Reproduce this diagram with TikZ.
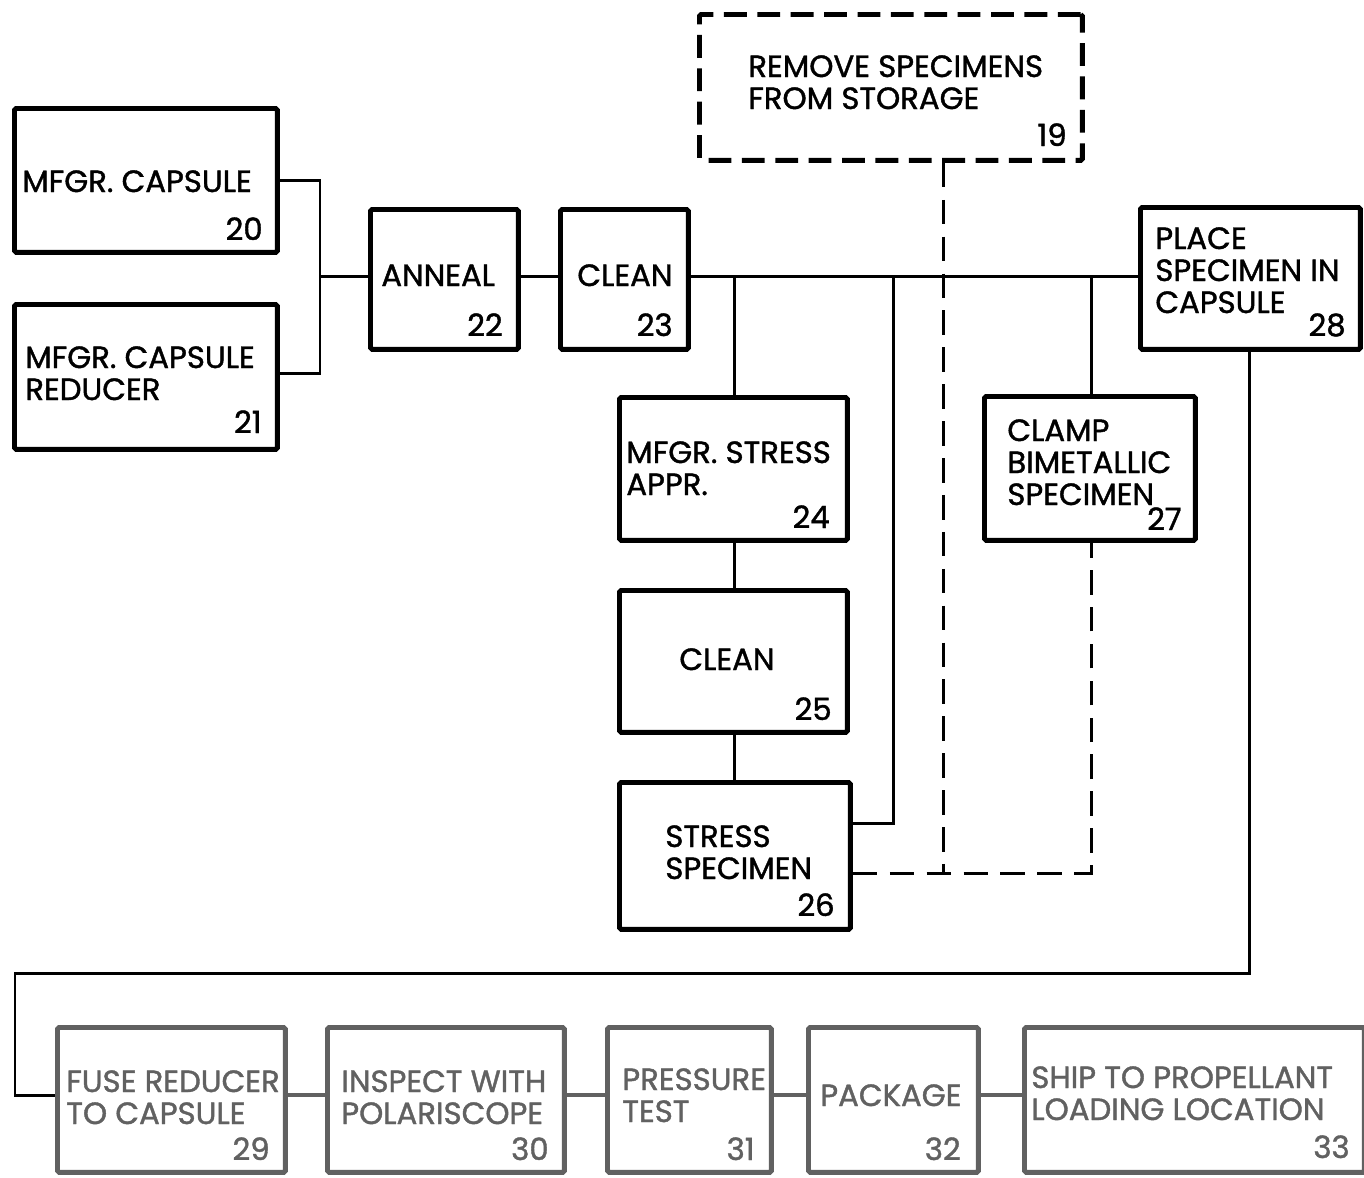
\documentclass[tikz,border=0pt]{standalone}
\usepackage{fontspec}
\setmainfont[FakeBold=1.3]{Poppins}
\begin{document}
\begin{tikzpicture}[x=0.02cm,y=-0.02cm,
  box/.style={draw, line width=2.8pt, rounded corners=1pt, inner sep=0pt, anchor=north west},
  dbox/.style={box, dash pattern=on 13pt off 6pt},
  gbox/.style={box, draw=black!62},
  lbl/.style={inner sep=0pt, anchor=base west, font=\fontsize{17.5}{20}\selectfont},
  num/.style={inner sep=0pt, anchor=base east, font=\fontsize{17.5}{20}\selectfont},
  glbl/.style={lbl, text=black!62},
  gnum/.style={num, text=black!62},
  wire/.style={line width=1.7pt},
  gwire/.style={line width=1.9pt, draw=black!62},
  dwire/.style={line width=1.7pt, dash pattern=on 14pt off 7pt}]
\useasboundingbox (0,0) rectangle (1364,1177);
% boxes
\node[dbox, minimum width=7.66cm, minimum height=2.92cm] (b19) at (697,12) {};
\node[box, minimum width=5.26cm, minimum height=2.88cm] (b20) at (12,106) {};
\node[box, minimum width=5.26cm, minimum height=2.90cm] (b21) at (12,302) {};
\node[box, minimum width=2.96cm, minimum height=2.80cm] (b22) at (368,207) {};
\node[box, minimum width=2.56cm, minimum height=2.80cm] (b23) at (558,207) {};
\node[box, minimum width=4.40cm, minimum height=2.84cm] (b28) at (1138,205) {};
\node[box, minimum width=4.56cm, minimum height=2.86cm] (b24) at (617,395) {};
\node[box, minimum width=4.56cm, minimum height=2.84cm] (b25) at (617,588) {};
\node[box, minimum width=4.62cm, minimum height=2.94cm] (b26) at (617,780) {};
\node[box, minimum width=4.22cm, minimum height=2.88cm] (b27) at (982,394) {};
\node[gbox, minimum width=4.56cm, minimum height=2.90cm] (b29) at (55,1025) {};
\node[gbox, minimum width=4.74cm, minimum height=2.90cm] (b30) at (325,1025) {};
\node[gbox, minimum width=3.28cm, minimum height=2.90cm] (b31) at (605,1025) {};
\node[gbox, minimum width=3.40cm, minimum height=2.90cm] (b32) at (806,1025) {};
\node[gbox, minimum width=6.80cm, minimum height=2.90cm] (b33) at (1022,1025) {};
% labels
\node[lbl] (t19a) at (748,77) {REMOVE SPECIMENS};
\node[lbl] (t19b) at (748,109) {FROM STORAGE};
\node[num] (n19) at (1067,146) {19};
\node[lbl] (t20) at (22,192) {MFGR. CAPSULE};
\node[num] (n20) at (263,240) {20};
\node[lbl] (t21a) at (25,368) {MFGR. CAPSULE};
\node[lbl] (t21b) at (25,400) {REDUCER};
\node[num] (n21) at (262,433) {21};
\node[lbl] (t22) at (381,286) {ANNEAL};
\node[num] (n22) at (503,336) {22};
\node[lbl] (t23) at (577,286) {CLEAN};
\node[num] (n23) at (673,336) {23};
\node[lbl] (t28a) at (1155,249) {PLACE};
\node[lbl] (t28b) at (1155,281) {SPECIMEN IN};
\node[lbl] (t28c) at (1155,313) {CAPSULE};
\node[num] (n28) at (1346,336) {28};
\node[lbl] (t24a) at (626,463) {MFGR. STRESS};
\node[lbl] (t24b) at (626,495) {APPR.};
\node[num] (n24) at (830,528) {24};
\node[lbl] (t25) at (679,670) {CLEAN};
\node[num] (n25) at (832,720) {25};
\node[lbl] (t26a) at (665,847) {STRESS};
\node[lbl] (t26b) at (665,879) {SPECIMEN};
\node[num] (n26) at (835,916) {26};
\node[lbl] (t27a) at (1007,441) {CLAMP};
\node[lbl] (t27b) at (1007,473) {BIMETALLIC};
\node[lbl] (t27c) at (1007,505) {SPECIMEN};
\node[num] (n27) at (1182,530) {27};
\node[glbl] (t29a) at (66,1092) {FUSE REDUCER};
\node[glbl] (t29b) at (66,1124) {TO CAPSULE};
\node[gnum] (n29) at (270,1160) {29};
\node[glbl] (t30a) at (341,1092) {INSPECT WITH};
\node[glbl] (t30b) at (341,1124) {POLARISCOPE};
\node[gnum] (n30) at (549,1160) {30};
\node[glbl] (t31a) at (622,1090) {PRESSURE};
\node[glbl] (t31b) at (622,1122) {TEST};
\node[gnum] (n31) at (755,1160) {31};
\node[glbl] (t32) at (820,1106) {PACKAGE};
\node[gnum] (n32) at (961,1160) {32};
\node[glbl] (t33a) at (1031,1088) {SHIP TO PROPELLANT};
\node[glbl] (t33b) at (1031,1120) {LOADING LOCATION};
\node[gnum] (n33) at (1350,1158) {33};
% junction coordinates
\coordinate (j1) at (320,276);
\coordinate (j2) at (734,276);
\coordinate (j3) at (893,276);
\coordinate (j4) at (1091,276);
\coordinate (j5) at (943,873);
\coordinate (j6) at (15,973);
% connectors
\draw[wire] (b20.east |- 0,180) -| (j1) |- (b21.east |- 0,373);
\draw[wire] (j1) -- (b22.west |- j1);
\draw[wire] (b22.east |- j1) -- (b23.west |- j1);
\draw[wire] (b23.east |- j1) -- (b28.west |- j1);
\draw[wire] (j2) -- (b24.north -| j2);
\draw[wire] (b24.south -| j2) -- (b25.north -| j2);
\draw[wire] (b25.south -| j2) -- (b26.north -| j2);
\draw[wire] (j3) |- (b26.east |- 0,823);
\draw[wire] (j4) -- (b27.north -| j4);
\draw[dwire] (b19.south -| j5) -- (j5);
\draw[dwire] (b26.east |- j5) -| (b27.south -| j4);
\draw[wire] (b28.south -| 1249,0) |- (j6) |- (b29.west |- 0,1095);
\draw[gwire] (b29.east |- 0,1095) -- (b30.west |- 0,1095);
\draw[gwire] (b30.east |- 0,1095) -- (b31.west |- 0,1095);
\draw[gwire] (b31.east |- 0,1095) -- (b32.west |- 0,1095);
\draw[gwire] (b32.east |- 0,1095) -- (b33.west |- 0,1095);
\end{tikzpicture}
\end{document}
